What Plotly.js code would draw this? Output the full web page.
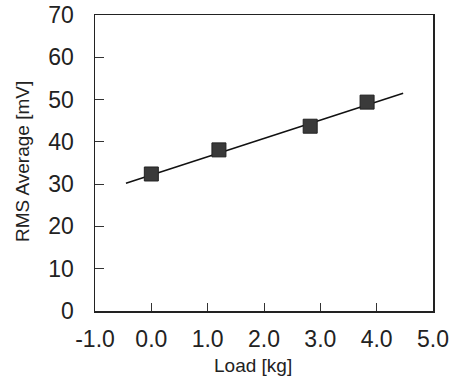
<!DOCTYPE html>
<html>
<head>
<meta charset="utf-8">
<script src="https://cdn.plot.ly/plotly-3.0.1.min.js"></script>
<style>html,body{margin:0;padding:0;background:#fff;}#chart{width:453px;height:378px;}</style>
</head>
<body>
<div id="chart"></div>
<script>
// Data
const loadKg = [0.0, 1.2, 2.82, 3.83];
const rmsAvg = [32.4, 38.1, 43.7, 49.4];
const trendX = [-0.45, 4.47];
const trendY = [30.2, 51.5];
const xTickVals = [-1, 0, 1, 2, 3, 4, 5];
const xTickText = ["-1.0", "0.0", "1.0", "2.0", "3.0", "4.0", "5.0"];
const yTickVals = [0, 10, 20, 30, 40, 50, 60, 70];
const xTitle = "Load [kg]";
const yTitle = "RMS Average [mV]";

const font = "Liberation Sans, Arial, sans-serif";

const traces = [
  {x: trendX, y: trendY, mode: "lines", type: "scatter",
   line: {color: "#111", width: 1.5}, hoverinfo: "skip", showlegend: false},
  {x: loadKg, y: rmsAvg, mode: "markers", type: "scatter",
   marker: {symbol: "square", size: 14, color: "#3a3a3a", line: {color: "#222", width: 1}},
   showlegend: false}
];

const layout = {
  width: 453, height: 378,
  margin: {l: 95, r: 20, t: 15, b: 67},
  paper_bgcolor: "#ffffff", plot_bgcolor: "#ffffff",
  font: {family: font, color: "#222"},
  xaxis: {
    range: [-1, 5], tickvals: xTickVals, ticktext: xTickText,
    ticks: "inside", ticklen: 8, tickwidth: 1, tickcolor: "#333",
    showline: true, mirror: true, linecolor: "#222", linewidth: 1.5,
    showgrid: false, zeroline: false,
    tickfont: {size: 23, family: font, color: "#222"},
    ticklabelstandoff: 7
  },
  yaxis: {
    range: [0, 70], tickvals: yTickVals,
    ticks: "inside", ticklen: 9, tickwidth: 1, tickcolor: "#333",
    showline: true, mirror: true, linecolor: "#222", linewidth: 1.5,
    showgrid: false, zeroline: false,
    tickfont: {size: 23, family: font, color: "#222"},
    ticklabelstandoff: 15
  },
  annotations: [
    {text: xTitle, xref: "paper", yref: "paper", x: (253 - 95) / 338, y: 0,
     yshift: -54, xanchor: "center", yanchor: "middle", showarrow: false,
     font: {size: 19, family: font, color: "#222"}},
    {text: yTitle, xref: "paper", yref: "paper", x: 0, y: (311 - 162) / 296,
     xshift: -73, xanchor: "center", yanchor: "middle", textangle: -90, showarrow: false,
     font: {size: 19, family: font, color: "#222"}}
  ]
};

Plotly.newPlot("chart", traces, layout, {displayModeBar: false, staticPlot: true});
</script>
</body>
</html>
